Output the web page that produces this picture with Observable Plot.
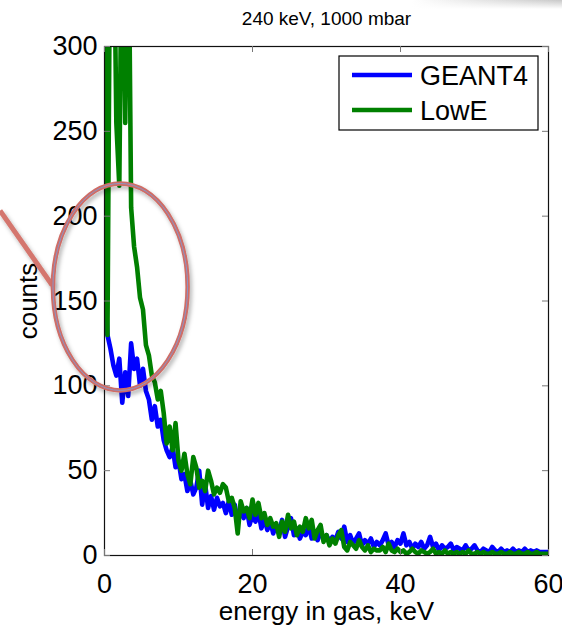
<!DOCTYPE html>
<html><head><meta charset="utf-8">
<script src="https://cdn.jsdelivr.net/npm/d3@7"></script>
<script src="https://cdn.jsdelivr.net/npm/@observablehq/plot@0.6"></script>
<style>
body{margin:0;background:#fff;}
#wrap{position:relative;width:562px;height:626px;overflow:hidden;background:#fff;}
#shadow{position:absolute;top:0;right:0;width:150px;height:9px;z-index:2;
background:linear-gradient(to bottom, rgba(255,255,255,0), rgba(255,255,255,1)),linear-gradient(to right, rgba(215,215,215,0), rgba(200,200,200,1));}
</style></head><body><div id="wrap"><div id="shadow"></div></div>
<script>
const title = "240 keV, 1000 mbar";
const xLabel = "energy in gas, keV";
const yLabel = "counts";
const seriesNames = ["GEANT4", "LowE"];
const seriesColors = ["#0000ff", "#008000"];
const binWidth = 0.4; // keV
const xTicks = [0, 20, 40, 60];
const yTicks = [0, 50, 100, 150, 200, 250, 300];

const geant4 = [
 168,130,122,112,106,116,90,108,94,125,
 110,116,100,110,97,92,80,88,76,80,
 68,62,58,64,52,56,45,48,38,44,
 36,40,50,30,42,28,35,27,34,29,
 31,25,32,24,30,20,26,22,28,18,
 24,20,26,16,22,15,20,13,18,14,
 21,11,17,22,12,16,10,14,12,18,
 10,13,9,14,10,12,8,11,9,14,
 10,17,8,12,7,10,13,6,9,7,
 10,5,8,6,9,13,6,8,5,9,
 7,13,6,8,4,7,5,8,4,6,
 11,5,7,3,6,4,5,7,3,5,
 4,3,6,3,4,6,3,2,4,3,
 2,5,3,2,4,2,3,2,4,2,
 3,2,4,2,3,2,3,2,2,2,
 2];

const lowE = [
 400,130,400,400,255,218,400,255,400,205,
 182,170,152,145,124,118,106,102,92,97,
 84,66,76,62,78,56,50,60,48,42,
 58,52,40,44,38,50,44,36,40,37,
 42,40,32,34,28,13,32,26,28,22,
 33,24,31,22,25,18,22,17,19,11,
 20,14,24,16,20,12,17,14,22,16,
 21,10,15,18,8,12,6,10,7,12,
 15,5,3,8,6,4,9,5,3,6,
 2,4,3,3,5,2,7,3,2,4,
 2,3,1,2,4,2,1,3,2,1,
 2,4,1,2,1,3,1,2,1,2,
 1,2,1,3,1,1,2,1,2,1,
 1,2,1,1,2,1,1,2,1,1,
 2,1,1,2,1,1,2,1,1,1,
 1];

// annotation (data units)
const ellipseCenter = [2.2, 158];
const ellipseRadii = [9.1, 61];
const pointerLine = [[-14.05, 203], [-7.0, 159]];

const series = [geant4, lowE];
const rowsBySeries = series.map((vals, k) => vals.map((c, i) => ({e: i * binWidth, c, s: seriesNames[k]})));

const W = 562, H = 626, mL = 104, mR = 14, mT = 46, mB = 71;
const innerW = W - mL - mR, innerH = H - mT - mB;
const font = "'Liberation Sans', Arial, Helvetica, sans-serif";

const plot = Plot.plot({
  width: W, height: H,
  marginLeft: mL, marginRight: mR, marginTop: mT, marginBottom: mB,
  style: {fontFamily: font, fontSize: "27px", color: "#000", background: "transparent", overflow: "visible"},
  x: {domain: [0, 60]},
  y: {domain: [0, 300]},
  marks: [
    ...rowsBySeries.map((rows, k) => Plot.line(rows, {x: "e", y: "c", stroke: seriesColors[k], strokeWidth: 4.6, clip: true, strokeLinejoin: "round"})),
    Plot.frame({stroke: "#111", strokeWidth: 1.2}),
    Plot.tickX(xTicks, {x: d => d, stroke: "#777", insetTop: innerH - 6}),
    Plot.tickX(xTicks, {x: d => d, stroke: "#777", insetBottom: innerH - 6}),
    Plot.tickY(yTicks, {y: d => d, stroke: "#777", insetRight: innerW - 6}),
    Plot.tickY(yTicks, {y: d => d, stroke: "#777", insetLeft: innerW - 6}),
    Plot.axisX(xTicks, {tickSize: 0, tickPadding: 18, label: null, fontSize: 27}),
    Plot.axisY(yTicks, {tickSize: 0, tickPadding: 7, label: null, fontSize: 27}),
    Plot.text([xLabel], {frameAnchor: "bottom", dy: 56, lineAnchor: "middle", fontSize: 26}),
    Plot.text([yLabel], {frameAnchor: "left", dx: -76, rotate: -90, textAnchor: "middle", lineAnchor: "middle", fontSize: 26}),
    Plot.text([title], {frameAnchor: "top", dy: -28, lineAnchor: "middle", fontSize: 19})
  ]
});

document.getElementById("wrap").appendChild(plot);

const svg = d3.select(plot);
const xs = plot.scale("x"), ys = plot.scale("y");
const defs = svg.append("defs");
defs.append("filter").attr("id", "sh").attr("x", "-30%").attr("y", "-30%").attr("width", "160%").attr("height", "160%")
  .append("feDropShadow").attr("dx", 2).attr("dy", 3).attr("stdDeviation", 2)
  .attr("flood-color", "#000").attr("flood-opacity", 0.3);

const ann = svg.append("g");
ann.append("line")
  .attr("x1", xs.apply(pointerLine[0][0])).attr("y1", ys.apply(pointerLine[0][1]))
  .attr("x2", xs.apply(pointerLine[1][0])).attr("y2", ys.apply(pointerLine[1][1]))
  .attr("stroke", "#d4766e").attr("stroke-width", 5).attr("filter", "url(#sh)");
const cx = xs.apply(ellipseCenter[0]), cy = ys.apply(ellipseCenter[1]);
const rx = xs.apply(ellipseCenter[0] + ellipseRadii[0]) - cx;
const ry = cy - ys.apply(ellipseCenter[1] + ellipseRadii[1]);
ann.append("ellipse").attr("cx", cx).attr("cy", cy).attr("rx", rx).attr("ry", ry)
  .attr("fill", "none").attr("stroke", "#cf6d66").attr("stroke-width", 4.5).attr("filter", "url(#sh)");
ann.append("ellipse").attr("cx", cx).attr("cy", cy).attr("rx", rx).attr("ry", ry)
  .attr("fill", "none").attr("stroke", "#8d93c4").attr("stroke-width", 1);

// legend
const lg = svg.append("g").attr("font-family", font).attr("font-size", 27).attr("text-anchor", "start");
const lgX = mL + innerW - 10 - 199, lgY = mT + 10;
lg.append("rect").attr("x", lgX).attr("y", lgY).attr("width", 199).attr("height", 74)
  .attr("fill", "#fff").attr("stroke", "#000").attr("stroke-width", 1.2);
seriesNames.forEach((name, k) => {
  const yy = lgY + 19 + k * 35;
  lg.append("line").attr("x1", lgX + 13).attr("x2", lgX + 73).attr("y1", yy).attr("y2", yy)
    .attr("stroke", seriesColors[k]).attr("stroke-width", 4.6);
  lg.append("text").attr("x", lgX + 81).attr("y", yy).attr("dy", "0.36em")
    .attr("text-anchor", "start").attr("fill", "#000").text(name);
});
</script>
</body></html>
